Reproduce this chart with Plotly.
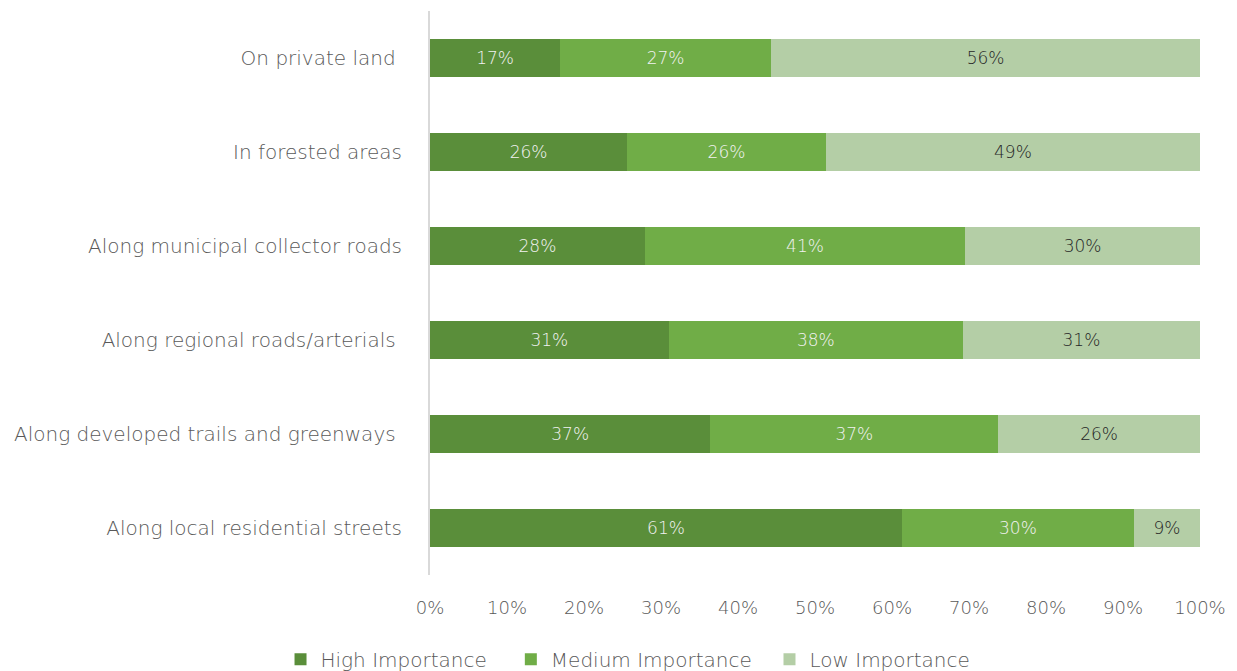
import plotly.graph_objects as go

categories = [
    "On private land ",
    "In forested areas",
    "Along municipal collector roads",
    "Along regional roads/arterials ",
    "Along developed trails and greenways ",
    "Along local residential streets",
]
high = [16.9, 25.6, 27.9, 31.0, 36.4, 61.3]
medium = [27.4, 25.8, 41.6, 38.2, 37.4, 30.1]
low = [55.7, 48.6, 30.5, 30.8, 26.2, 8.6]
high_labels = ["17%", "26%", "28%", "31%", "37%", "61%"]
medium_labels = ["27%", "26%", "41%", "38%", "37%", "30%"]
low_labels = ["56%", "49%", "30%", "31%", "26%", "9%"]
tick_vals = [0, 10, 20, 30, 40, 50, 60, 70, 80, 90, 100]
tick_text = ["0%", "10%", "20%", "30%", "40%", "50%", "60%", "70%", "80%", "90%", "100%"]
series_names = ["High Importance", "Medium Importance", "Low Importance"]

FONT = "DejaVu Sans"
W = 200
NB = "\u00a0"
series = [
    (series_names[0] + NB * 3, high, high_labels, "#5a8e3a", "#f2f2f2"),
    (series_names[1] + NB * 2, medium, medium_labels, "#70ad47", "#f2f2f2"),
    (series_names[2], low, low_labels, "#b4cea6", "#262626"),
]

fig = go.Figure()
for name, vals, labels, color, tcolor in series:
    fig.add_trace(go.Bar(
        y=categories, x=vals, name=name, orientation="h",
        marker=dict(color=color, line=dict(width=0)),
        text=labels, textposition="inside", insidetextanchor="middle",
        textangle=0,
        textfont=dict(family=FONT, size=17, color=tcolor, weight=W),
        hoverinfo="skip",
    ))

fig.update_layout(
    barmode="stack",
    bargap=0.6,
    width=1237, height=671,
    margin=dict(l=430, r=37, t=11, b=96, autoexpand=False),
    paper_bgcolor="white", plot_bgcolor="white",
    font=dict(family=FONT, color="#595959", size=20, weight=W),
    legend=dict(
        orientation="h", xref="container", x=0.5077, xanchor="center",
        y=-0.115, yanchor="top",
        font=dict(family=FONT, size=20, color="#595959", weight=W),
        traceorder="normal", itemwidth=30,
    ),
    showlegend=True,
)
fig.update_xaxes(
    range=[0, 100], tickvals=tick_vals, ticktext=tick_text,
    showgrid=False, zeroline=False, showline=False,
    ticks="", ticklabelstandoff=20,
    tickfont=dict(family=FONT, size=18, color="#595959", weight=W),
)
fig.update_yaxes(
    categoryorder="array", categoryarray=categories,
    autorange="reversed",
    showgrid=False, zeroline=False,
    showline=True, linecolor="#d9d9d9", linewidth=2,
    ticks="", ticklabelstandoff=22,
    tickfont=dict(family=FONT, size=20, color="#595959", weight=W),
)

fig.write_html("out.html")
